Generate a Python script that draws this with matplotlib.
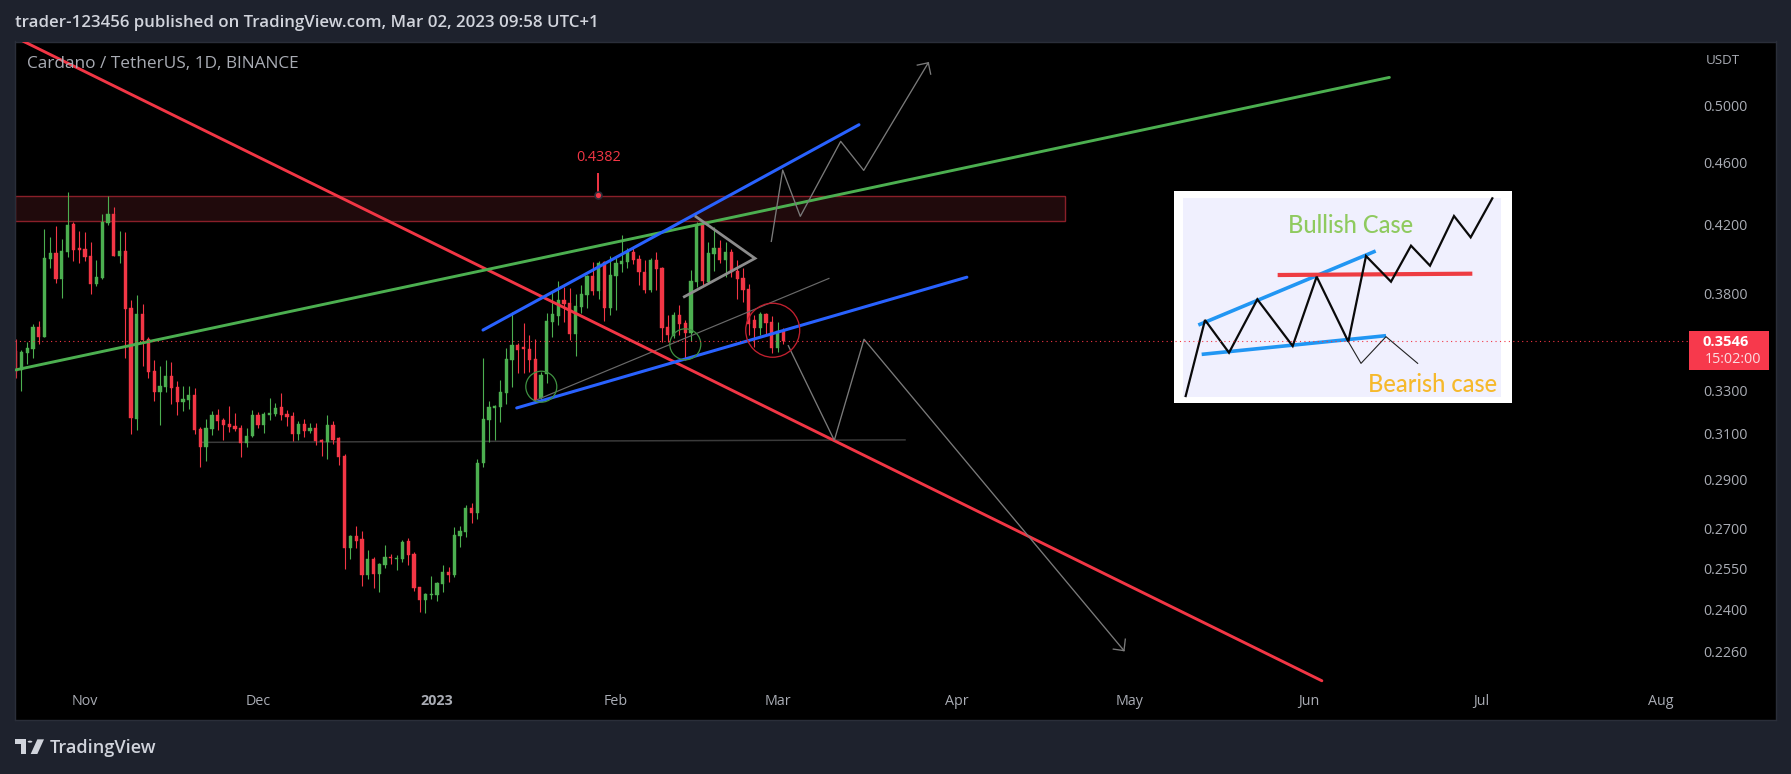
import numpy as np
import matplotlib
matplotlib.use("Agg")
import matplotlib.pyplot as plt
from matplotlib.patches import Rectangle, Polygon, Circle

# Candles: one per day, first candle is 12 days before 1 Nov 2022
FIRST_DAY = -12
OPEN = [.3497,.3402,.3487,.3507,.3621,.3569,.3997,.4032,.3883,.4038,.4206,.4062,.4056,.4015,.3855,.3888,.4212,.4267,.4015,.4044,.3722,.3168,.3690,.3558,.3397,.3295,.3319,
        .3372,.3319,.3247,.3257,.3280,.3122,.3041,.3122,.3186,.3163,.3145,.3136,.3127,.3059,.3091,.3186,.3140,.3186,.3191,.3224,.3191,.3182,.3099,.3145,.3113,.3127,.3073,
        .3064,.3140,.3082,.3002,.2626,.2672,.2661,.2525,.2585,.2529,.2562,.2592,.2585,.2585,.2653,.2603,.2481,.2435,.2453,.2453,.2492,.2536,.2525,.2672,.2688,.2783,.2763,
        .2972,.3163,.3219,.3224,.3290,.3451,.3528,.3519,.3507,.3456,.3264,.3380,.3646,.3681,.3766,.3748,.3583,.3730,.3793,.3900,.3816,.3982,.3724,.3900,.3968,.3978,.4040,
        .3997,.3924,.3821,.3991,.3943,.3623,.3574,.3685,.3640,.3591,.3868,.4200,.3868,.4026,.4064,.3991,.4040,.3928,.3886,.3825,.3658,.3614,.3690,.3646,.3514,.3602]
HIGH = [.3558,.3502,.3545,.3637,.3653,.4173,.4127,.4194,.4115,.4406,.4218,.4163,.4157,.4097,.3991,.4267,.4381,.4311,.4163,.4157,.3766,.3793,.3744,.3569,.3451,.3421,.3451,
        .3441,.3348,.3323,.3323,.3314,.3131,.3168,.3205,.3214,.3172,.3228,.3196,.3140,.3127,.3210,.3200,.3200,.3266,.3242,.3290,.3210,.3200,.3157,.3168,.3149,.3149,.3077,
        .3186,.3159,.3086,.3011,.2676,.2712,.2692,.2619,.2592,.2570,.2638,.2603,.2600,.2657,.2665,.2611,.2481,.2460,.2521,.2500,.2562,.2555,.2708,.2712,.2796,.2804,.2989,
        .3462,.3252,.3233,.3353,.3512,.3699,.3538,.3640,.3579,.3557,.3393,.3694,.3812,.3871,.3836,.3830,.3799,.3849,.3905,.3982,.3988,.3988,.4015,.4001,.4139,.4060,.4060,
        .4021,.3991,.4001,.4040,.3953,.3685,.3703,.3739,.3658,.3934,.4220,.4220,.4099,.4190,.4109,.4099,.4054,.3991,.3943,.3855,.3685,.3703,.3697,.3679,.3646,.3614]
LOW = [.3364,.3299,.3431,.3462,.3533,.3569,.3945,.3860,.3777,.4009,.3986,.3974,.3986,.3799,.3843,.3883,.4200,.4015,.3974,.3462,.3099,.3118,.3421,.3362,.3252,.3140,.3295,
       .3238,.3186,.3205,.3214,.3099,.2954,.2980,.3095,.3118,.3073,.3109,.3113,.2998,.3041,.3086,.3127,.3104,.3163,.3182,.3163,.3136,.3068,.3073,.3086,.3104,.3050,.3002,
       .2989,.3055,.2963,.2547,.2585,.2626,.2485,.2511,.2478,.2464,.2551,.2566,.2544,.2573,.2562,.2467,.2393,.2389,.2439,.2431,.2464,.2500,.2518,.2630,.2669,.2723,.2739,
       .2954,.3064,.3073,.3154,.3238,.3319,.3387,.3385,.3393,.3241,.3257,.3340,.3571,.3632,.3649,.3553,.3473,.3694,.3721,.3793,.3771,.3655,.3685,.3712,.3921,.3943,.3968,
       .3849,.3803,.3812,.3821,.3545,.3545,.3562,.3579,.3451,.3550,.3836,.3849,.3858,.3928,.3972,.3896,.3896,.3771,.3757,.3579,.3516,.3579,.3579,.3485,.3490,.3533]
CLOSE = [.3393,.3492,.3512,.3621,.3569,.4003,.4032,.3883,.4044,.4200,.4050,.4050,.4009,.3855,.3894,.4218,.4267,.4015,.4044,.3717,.3172,.3690,.3553,.3392,.3295,.3323,.3372,
         .3314,.3247,.3261,.3280,.3118,.3041,.3127,.3186,.3159,.3140,.3131,.3122,.3059,.3091,.3186,.3140,.3191,.3196,.3219,.3186,.3177,.3099,.3145,.3113,.3127,.3068,.3064,
         .3140,.3073,.2998,.2626,.2672,.2653,.2525,.2585,.2529,.2566,.2592,.2588,.2588,.2649,.2600,.2478,.2435,.2456,.2456,.2496,.2536,.2525,.2676,.2692,.2783,.2763,.2972,
         .3168,.3224,.3228,.3295,.3456,.3528,.3502,.3505,.3451,.3257,.3377,.3655,.3690,.3766,.3742,.3583,.3733,.3799,.3900,.3816,.3972,.3724,.3905,.3972,.3986,.4040,.3991,
         .3921,.3821,.3991,.3940,.3618,.3579,.3685,.3637,.3591,.3871,.4200,.3871,.4030,.4060,.3991,.4040,.3921,.3883,.3821,.3637,.3614,.3690,.3640,.3514,.3602,.3546]

MONTH_DAY = [0, 30, 61, 92, 120, 151, 181, 212, 242, 273]
MONTH_LABELS = ["Nov", "Dec", "2023", "Feb", "Mar", "Apr", "May", "Jun", "Jul", "Aug"]
PRICE_TICKS = [0.50, 0.46, 0.42, 0.38, 0.33, 0.31, 0.29, 0.27, 0.255, 0.24, 0.226]
LAST_PRICE = 0.3546

# Drawings on the chart, in (day, price)
RED_LINE = ([-10.72, 214.3], [0.5487, 0.2165])
GREEN_LINE = ([-11.99, 226.0], [0.3402, 0.5205])
BLUE_UP = ([68.97, 134.11], [0.3605, 0.4859])
BLUE_LOW = ([74.81, 152.8], [0.3219, 0.3893])
GREY_THIN = ([78.27, 128.9], [0.3257, 0.3886])
GREY_LEVEL = ([19.94, 142.08], [0.3062, 0.3073])
TRIANGLE = ([105.87, 116.09, 103.85], [0.4251, 0.4001, 0.3784])
BULL_PATH = ([118.92, 120.89, 123.94, 130.94, 134.93, 146.12], [0.4101, 0.4549, 0.4253, 0.4743, 0.4547, 0.5317])
BULL_HEAD = ([144.21, 146.12, 146.53], [0.5299, 0.5317, 0.5230])
BEAR_PATH = ([121.86, 129.83, 134.98, 180.02], [0.3524, 0.3071, 0.3557, 0.2262])
BEAR_HEAD = ([178.17, 180.02, 180.25], [0.2267, 0.2262, 0.2300])
ZONE_DAYS = (-12.11, 169.8)
ZONE_PRICES = (0.4227, 0.4381)
NOTE_DAY = 88.84
NOTE_PRICES = (0.4525, 0.4387)
NOTE_TEXT = "0.4382"
GREEN_RINGS = ([79.07, 104.02], [0.3320, 0.3531])
RED_RING = ([119.16], [0.3604])

# Inset sketch (its own 0-based scale)
SK_BLUE_UP = ([115, 647], [435, 213])
SK_BLUE_LOW = ([125, 678], [523, 467])
SK_RED = ([353, 937], [285, 281])
SK_ZIG_X = [77, 135, 207, 292, 398, 470, 565, 618, 693, 753, 810, 882, 932, 997]
SK_ZIG_Y = [648, 420, 518, 358, 498, 290, 485, 228, 305, 197, 257, 108, 172, 55]
SK_BEAR_X = [565, 603, 678, 773]
SK_BEAR_Y = [485, 550, 470, 550]

W, H = 1791, 774
BG = "#1e222d"
BORDER = "#2a2e39"
UP = "#4caf50"
DOWN = "#f23645"
TICK = "#a9acb4"
FONT = "Open Sans"

fig = plt.figure(figsize=(W / 100, H / 100), dpi=100, facecolor=BG)
L, R, T, B = 15, 1776, 41.5, 720
ax = fig.add_axes([L / W, 1 - B / H, (R - L) / W, (B - T) / H], facecolor="black")
ax.set_yscale("log")
ax.set_xlim(-12.11, 292.98)
ax.set_ylim(0.2045, 0.5484)

days = np.arange(len(OPEN)) + FIRST_DAY
o, h, l, c = map(np.array, (OPEN, HIGH, LOW, CLOSE))
cols = np.where(c >= o, UP, DOWN)
ax.vlines(days, l, h, colors=cols, lw=0.8, zorder=2.2)
ax.bar(days, np.abs(c - o), bottom=np.minimum(o, c), width=0.56, color=cols,
       edgecolor=cols, linewidth=0.3, zorder=2.3)

ax.add_patch(Rectangle((ZONE_DAYS[0], ZONE_PRICES[0]), ZONE_DAYS[1] - ZONE_DAYS[0],
                       ZONE_PRICES[1] - ZONE_PRICES[0], facecolor="#200a0c",
                       edgecolor="#8a1f29", lw=1.0, zorder=1))
ax.plot(*GREY_LEVEL, color="#3a3a3a", lw=1.1, zorder=1.5)
ax.plot(*GREY_THIN, color="#6a6a6a", lw=0.85, zorder=3)
ax.plot(*RED_LINE, color=DOWN, lw=2.1, zorder=3, solid_capstyle="round")
ax.plot(*GREEN_LINE, color=UP, lw=2.1, zorder=3.1, solid_capstyle="round")
ax.plot(*BLUE_UP, color="#2962ff", lw=2.2, zorder=3.2, solid_capstyle="round")
ax.plot(*BLUE_LOW, color="#2962ff", lw=2.2, zorder=3.2, solid_capstyle="round")
ax.plot(*TRIANGLE, color="#8c8c8c", lw=2.0, zorder=3.3, solid_joinstyle="miter")
for path in (BULL_PATH, BULL_HEAD, BEAR_PATH, BEAR_HEAD):
    ax.plot(*path, color="#7a7a7a", lw=0.95, zorder=3.3)
ax.scatter(*GREEN_RINGS, s=(31 * 0.72) ** 2, facecolors="none", edgecolors="#3f9142",
           linewidths=0.9, zorder=3.4)
ax.scatter(*RED_RING, s=(54 * 0.72) ** 2, facecolors="none", edgecolors="#c2202f",
           linewidths=0.95, zorder=3.4)

ax.plot([NOTE_DAY, NOTE_DAY], NOTE_PRICES, color=DOWN, lw=1.4, zorder=3.5)
ax.plot([NOTE_DAY], [NOTE_PRICES[1]], "o", ms=5, mfc=DOWN, mec="#2a2e39", mew=1.2, zorder=3.6)
ax.annotate(NOTE_TEXT, (NOTE_DAY, NOTE_PRICES[0]), xytext=(0.5, 6.5), textcoords="offset points",
            ha="center", va="bottom", color=DOWN, fontsize=10.4, family=FONT, zorder=3.6)

# inset sketch
iax = ax.inset_axes([(1174 - L) / (R - L), (B - 402.7) / (B - T), 338 / (R - L), 211.7 / (B - T)],
                    zorder=4, facecolor="white")
iax.set_xlim(42, 1056)
iax.set_ylim(668, 33)
iax.set_xticks([]); iax.set_yticks([])
for s in iax.spines.values():
    s.set_visible(False)
iax.add_patch(Rectangle((68, 55), 954, 597, facecolor="#f0f0fe", edgecolor="none"))
iax.plot(*SK_BLUE_UP, color="#2196f3", lw=2.6, solid_capstyle="butt")
iax.plot(*SK_BLUE_LOW, color="#2196f3", lw=2.6, solid_capstyle="butt")
iax.plot(*SK_RED, color="#ee3c42", lw=3.0, solid_capstyle="butt")
iax.plot(SK_ZIG_X, SK_ZIG_Y, color="#0a0a0a", lw=1.6, solid_joinstyle="miter")
iax.plot(SK_BEAR_X, SK_BEAR_Y, color="#222222", lw=0.8)
iax.text(572, 135, "Bullish Case", color="#8fca5f", fontsize=17, family="Lato", fontweight="medium",
         ha="center", va="center")
iax.text(817, 612, "Bearish case", color="#f6b92c", fontsize=17, family="Lato", fontweight="medium",
         ha="center", va="center")

# last price line on top of the sketch
ax.hlines(LAST_PRICE, -12.11, 278, color=DOWN, lw=0.8, linestyles=(0, (1, 3)), zorder=5)

ax.xaxis.set_major_locator(matplotlib.ticker.FixedLocator(MONTH_DAY))
ax.set_xticklabels(MONTH_LABELS)
ax.yaxis.tick_right()
ax.yaxis.set_major_locator(matplotlib.ticker.FixedLocator(PRICE_TICKS))
ax.yaxis.set_major_formatter(matplotlib.ticker.FuncFormatter(lambda v, _: "%.4f" % v))
ax.yaxis.set_minor_locator(matplotlib.ticker.NullLocator())
ax.xaxis.set_minor_locator(matplotlib.ticker.NullLocator())
ax.tick_params(axis="y", length=0, pad=-52.6, labelsize=10.3, labelcolor=TICK)
ax.tick_params(axis="x", length=0, pad=-18.5, labelsize=10.3, labelcolor=TICK)
for t in ax.get_xticklabels() + ax.get_yticklabels():
    t.set_family(FONT)
    t.set_zorder(6)
ax.get_xticklabels()[2].set_fontweight("bold")
for s in ax.spines.values():
    s.set_color(BORDER)
    s.set_linewidth(1.0)

def fx(x):
    return x / W
def fy(y):
    return 1 - y / H

fig.text(fx(15), fy(23), "trader-123456 published on TradingView.com, Mar 02, 2023 09:58 UTC+1",
         color="#d1d4dc", fontsize=12.2, family=FONT, fontweight="semibold", va="center", ha="left")
fig.text(fx(27), fy(64.5), "Cardano / TetherUS, 1D, BINANCE", color=TICK, fontsize=12.45,
         family=FONT, va="center", ha="left", zorder=5)
fig.text(fx(1722.5), fy(60), "USDT", color=TICK, fontsize=9.6, family=FONT, va="center", ha="center", zorder=5)

fig.add_artist(Rectangle((fx(1689), fy(370)), 80 / W, 39 / H, transform=fig.transFigure,
                         facecolor="#f7394c", edgecolor="none", zorder=6))
fig.text(fx(1726), fy(342), "%.4f" % LAST_PRICE, color="white", fontsize=10.6, family=FONT,
         fontweight="bold", ha="center", va="center", zorder=7)
fig.text(fx(1733), fy(360), "15:02:00", color="#fbdde1", fontsize=10.4, family=FONT,
         ha="center", va="center", zorder=7)

# TradingView logo
def lp(pts):
    return [(fx(x / 3), fy(680 + y / 3)) for x, y in pts]
LOGO = "#d1d4dc"
fig.add_artist(Polygon(lp([(45, 178), (78, 178), (78, 222), (62, 222), (62, 192), (45, 192)]),
                       closed=True, transform=fig.transFigure, facecolor=LOGO, edgecolor="none"))
fig.add_artist(Circle((fx(90 / 3), fy(680 + 185 / 3)), 7 / 3 / W, transform=fig.transFigure,
                      facecolor=LOGO, edgecolor="none"))
fig.add_artist(Polygon(lp([(112, 178), (132, 178), (112, 222), (92, 222)]),
                       closed=True, transform=fig.transFigure, facecolor=LOGO, edgecolor="none"))
fig.text(fx(50), fy(748), "TradingView", color=LOGO, fontsize=13.1, family=FONT, fontweight="semibold",
         va="center", ha="left")

fig.savefig("out.png", facecolor=BG)
